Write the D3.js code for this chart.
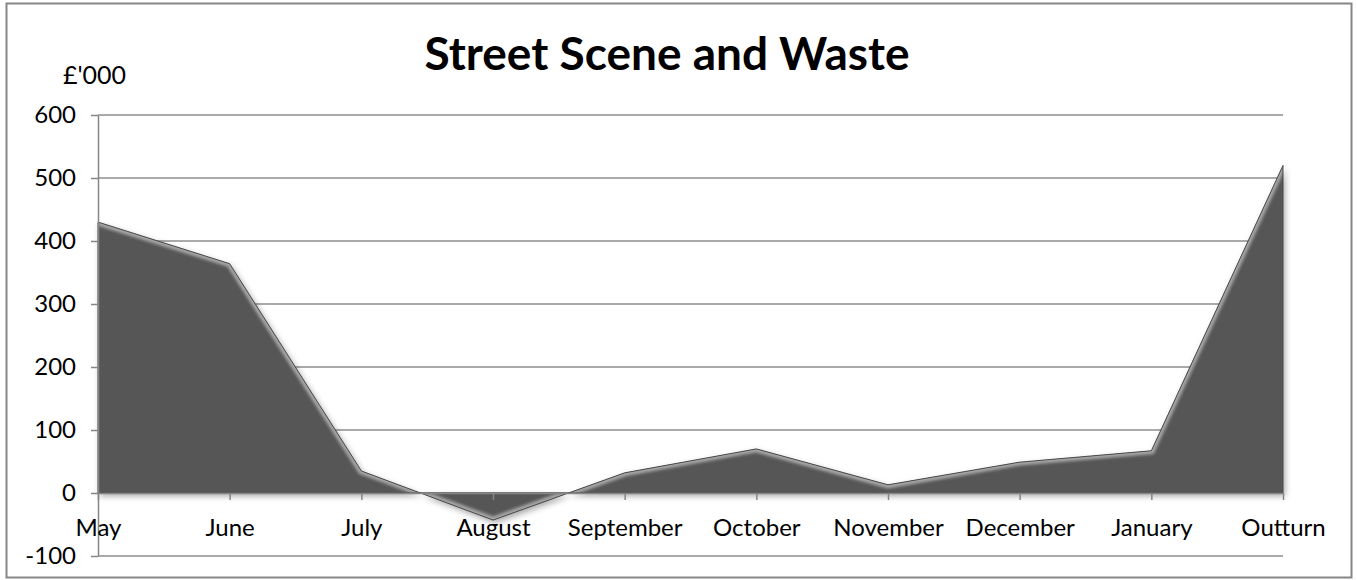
<!DOCTYPE html>
<html>
<head>
<meta charset="utf-8">
<script src="https://cdn.jsdelivr.net/npm/d3@7"></script>
<style>
  body { margin: 0; background: #fff; }
  text { font-family: Lato, "Open Sans", sans-serif; fill: #000; }
</style>
</head>
<body>
<div id="chart"></div>
<script>
var months = ["May", "June", "July", "August", "September", "October", "November", "December", "January", "Outturn"];
var values = [430, 364, 35, -43, 32, 70, 13, 49, 67, 520];
var yTicks = [-100, 0, 100, 200, 300, 400, 500, 600];

var width = 1357, height = 580;
var plotLeft = 98, plotRight = 1283, plotTop = 115, plotBottom = 556;

var svg = d3.select("#chart").append("svg")
  .attr("width", width)
  .attr("height", height);

var defs = svg.append("defs");

var shadow = defs.append("filter").attr("id", "shadow")
  .attr("x", "-5%").attr("y", "-5%").attr("width", "110%").attr("height", "115%");
shadow.append("feDropShadow")
  .attr("dx", 2).attr("dy", 3).attr("stdDeviation", 3)
  .attr("flood-color", "#000").attr("flood-opacity", 0.35);

var blur = defs.append("filter").attr("id", "blur");
blur.append("feGaussianBlur").attr("stdDeviation", 1.6);

// outer border
svg.append("rect")
  .attr("x", 6.5).attr("y", 3.5)
  .attr("width", 1345).attr("height", 574)
  .attr("fill", "#fff")
  .attr("stroke", "#868686")
  .attr("stroke-width", 2);

var x = d3.scalePoint().domain(months).range([plotLeft, plotRight]);
var y = d3.scaleLinear().domain([-100, 600]).range([plotBottom, plotTop]);

// gridlines
svg.append("g")
  .selectAll("line")
  .data(yTicks)
  .enter().append("line")
  .attr("x1", plotLeft).attr("x2", plotRight)
  .attr("y1", d => y(d)).attr("y2", d => y(d))
  .attr("stroke", "#8e8e8e")
  .attr("stroke-width", 1.5);

// the area
var area = d3.area()
  .x((d, i) => x(months[i]))
  .y0(y(0))
  .y1(d => y(d));
var line = d3.line()
  .x((d, i) => x(months[i]))
  .y(d => y(d));

defs.append("clipPath").attr("id", "areaClip")
  .append("path").attr("d", area(values));

svg.append("path")
  .attr("d", area(values))
  .attr("fill", "#575757")
  .attr("filter", "url(#shadow)");

// bevel highlight along the top edge
svg.append("g")
  .attr("clip-path", "url(#areaClip)")
  .append("path")
  .attr("d", line(values))
  .attr("fill", "none")
  .attr("stroke", "#a6a6a6")
  .attr("stroke-width", 7)
  .attr("filter", "url(#blur)");

svg.append("path")
  .attr("d", area(values))
  .attr("fill", "none")
  .attr("stroke", "#4a4a4a")
  .attr("stroke-width", 1);

// y axis
var yaxis = d3.axisLeft(y).tickValues(yTicks).tickSize(7).tickPadding(15).tickSizeOuter(0)
  .tickFormat(d => String(d));
var gy = svg.append("g")
  .attr("transform", "translate(" + plotLeft + ",0)")
  .call(yaxis);
gy.select(".domain").attr("stroke", "#868686").attr("stroke-width", 1.5);
gy.selectAll(".tick line").attr("stroke", "#868686").attr("stroke-width", 1.5);
gy.selectAll(".tick text").style("font-size", "24px");

// x axis at zero
var xaxis = d3.axisBottom(x).tickSize(7).tickPadding(19).tickSizeOuter(0);
var gx = svg.append("g")
  .attr("transform", "translate(0," + y(0) + ")")
  .call(xaxis);
gx.select(".domain").attr("stroke", "#868686").attr("stroke-width", 1.5);
gx.selectAll(".tick line").attr("stroke", "#868686").attr("stroke-width", 1.5);
gx.selectAll(".tick text").style("font-size", "24px");

// title and unit
svg.append("text")
  .attr("x", 667).attr("y", 70)
  .attr("text-anchor", "middle")
  .style("font-size", "46px")
  .style("font-weight", "bold")
  .text("Street Scene and Waste");

svg.append("text")
  .attr("x", 63).attr("y", 84)
  .style("font-size", "25px")
  .text("£'000");
</script>
</body>
</html>
